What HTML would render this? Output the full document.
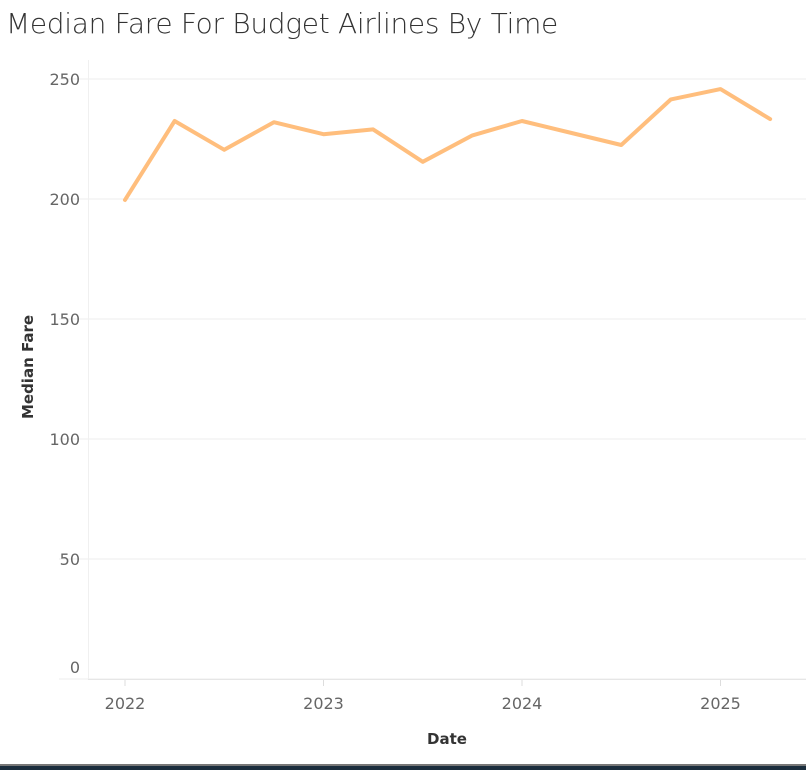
<!DOCTYPE html>
<html><head><meta charset="utf-8"><style>
body{margin:0;width:806px;height:770px;overflow:hidden;background:#fff;font-family:"Liberation Sans","DejaVu Sans",sans-serif;position:relative}
#title{position:absolute;left:6px;top:7px;font-size:28px;color:#333;font-family:"DejaVu Sans","Liberation Sans",sans-serif;font-weight:300;letter-spacing:-0.3px}
#bar{position:absolute;left:0;top:764px;width:806px;height:6px;background:#1b2d3d;border-top:2px solid #777;box-sizing:border-box}
</style></head><body>
<div id="title">Median Fare For Budget Airlines By Time</div>
<svg id="chart" width="806" height="764" style="position:absolute;left:0;top:0"></svg>
<div id="bar"></div>
<script>
const dates=[2022,2022.25,2022.5,2022.75,2023,2023.25,2023.5,2023.75,2024,2024.25,2024.5,2024.75,2025,2025.25];
const fares=[199.6,232.5,220.5,232,227,229,215.5,226.5,232.5,227.5,222.5,241.5,245.8,233.3];
const yTicks=[0,50,100,150,200,250];
const xTicks=[2022,2023,2024,2025];
const NS="http://www.w3.org/2000/svg";
const svg=document.getElementById('chart');
const x=d=>125+(d-2022)*198.5;
const y=v=>679-v*2.4;
function mk(t,a){const e=document.createElementNS(NS,t);for(const k in a)e.setAttribute(k,a[k]);svg.appendChild(e);return e;}
yTicks.forEach(v=>{
 const g=mk('line',{x1:59,x2:806,y1:y(v),y2:y(v),stroke:'#ececec','stroke-width':1});
 
 
 const t=mk('text',{x:80,y:(v===0?y(v)-6:y(v)+6),'text-anchor':'end','font-size':16,fill:'#666','font-family':'"DejaVu Sans",sans-serif'});
 t.textContent=v;
 
 
});
const ax=mk('line',{x1:88,x2:806,y1:679.5,y2:679.5,stroke:'#e6e6e6'});


const vl=mk('line',{x1:88.5,x2:88.5,y1:60,y2:679,stroke:'#f0f0f0'});


xTicks.forEach(d=>{
 const tk=mk('line',{x1:x(d),x2:x(d),y1:680,y2:686,stroke:'#ddd'});
 
 
 const t=mk('text',{x:x(d),y:709,'text-anchor':'middle','font-size':16,fill:'#666','font-family':'"DejaVu Sans",sans-serif'});
 t.textContent=d;
 
 
});
const xt=mk('text',{x:447,y:744,'text-anchor':'middle','font-size':15,fill:'#333','font-weight':'600','font-family':'"DejaVu Sans",sans-serif'});
xt.textContent='Date';


const yt=mk('text',{x:0,y:0,transform:'translate(33,367) rotate(-90)','text-anchor':'middle','font-size':15,fill:'#333','font-weight':'600','font-family':'"DejaVu Sans",sans-serif'});
yt.textContent='Median Fare';


const pts=dates.map((d,i)=>x(d)+','+y(fares[i])).join(' ');
const line=mk('polyline',{points:pts,fill:'none',stroke:'#ffbe7d','stroke-width':4,'stroke-linejoin':'round','stroke-linecap':'round'});


</script>
</body></html>
